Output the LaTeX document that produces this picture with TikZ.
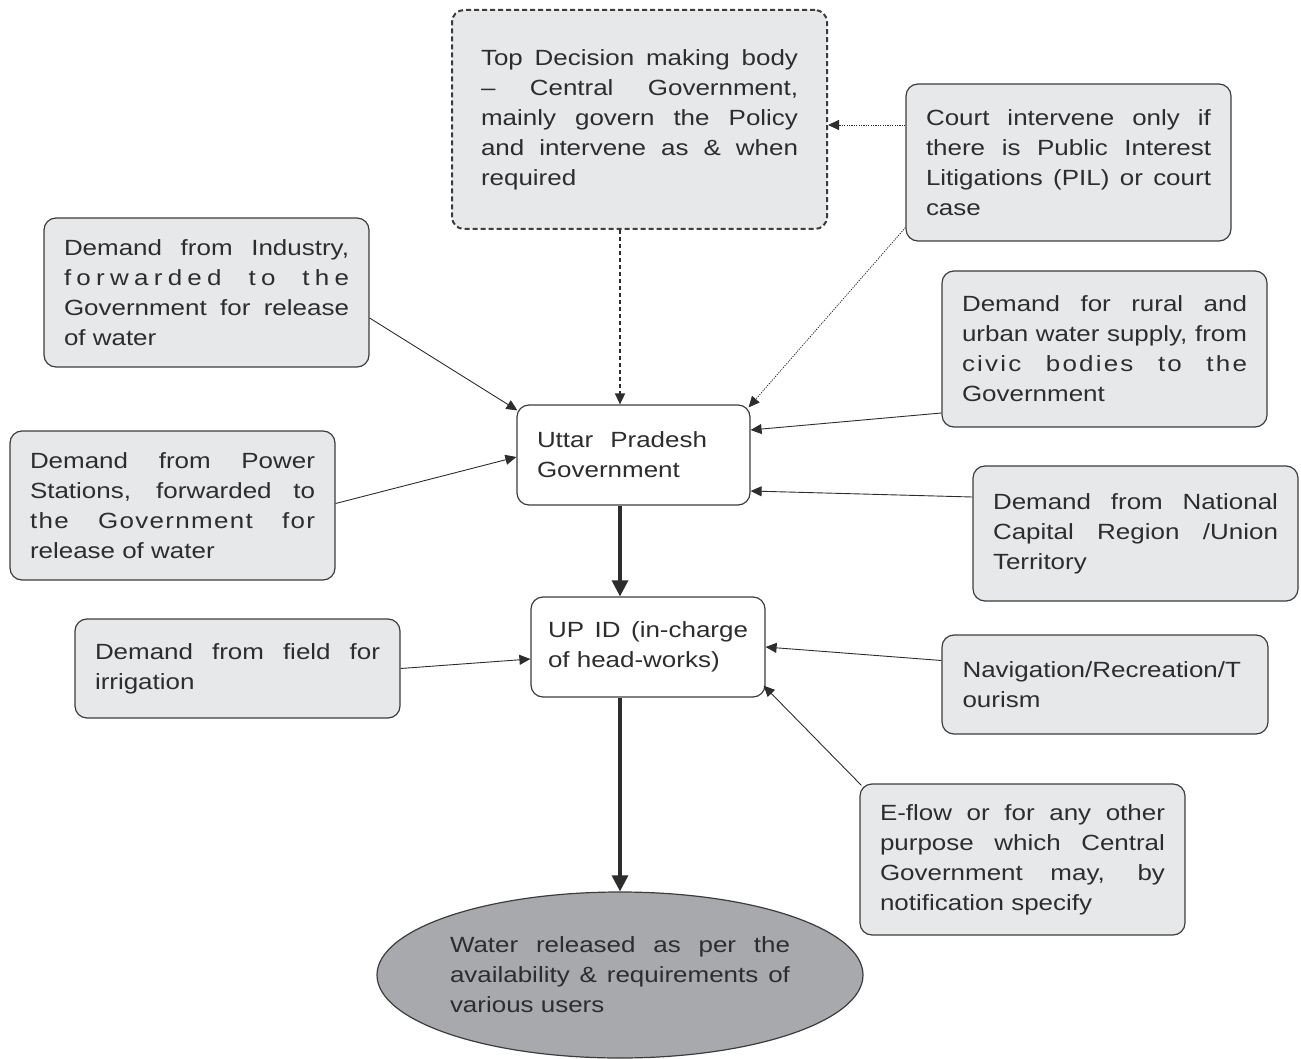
\documentclass[tikz,border=0pt]{standalone}
\usepackage{fontspec}
\setmainfont{Liberation Sans}[FakeStretch=1.18]
\usetikzlibrary{arrows.meta,shapes.geometric}
\definecolor{txt}{RGB}{45,45,45}
\definecolor{edge}{RGB}{60,60,60}
\definecolor{boxfill}{RGB}{231,232,233}
\definecolor{ellfill}{RGB}{167,169,172}
\begin{document}
\begin{tikzpicture}[x=1pt,y=-1pt,
  every node/.style={font=\fontsize{22}{30}\selectfont, text=txt},
  gbox/.style={draw=edge, line width=1.2pt, fill=boxfill, rounded corners=12pt,
    text width=285pt, inner xsep=20pt, inner ysep=0pt, align=justify, minimum width=325pt},
  wbox/.style={gbox, fill=white},
  dbox/.style={gbox, line width=2pt, dash pattern=on 5pt off 3pt, text width=317pt, inner xsep=29pt, minimum width=375pt},
  conn/.style={draw=txt, line width=0.9pt, -{Triangle[length=11pt,width=10pt]}},
  dotconn/.style={conn, line width=0.8pt, dash pattern=on 1.2pt off 1.2pt},
  dashconn/.style={conn, line width=1.6pt, dash pattern=on 4pt off 3pt},
  thickconn/.style={draw=txt, line width=3.2pt, -{Triangle[length=16pt,width=16pt]}}
]
\useasboundingbox (0,0) rectangle (1301,1059);

\node[dbox, minimum height=219pt] (top) at (639.5,119.5)
  {Top Decision making body\linebreak
   – Central Government,\linebreak
   mainly govern the Policy\linebreak
   and intervene as \& when\linebreak
   required};

\node[gbox, minimum height=157pt] (court) at (1068.5,162.5)
  {Court intervene only if\linebreak
   there is Public Interest\linebreak
   Litigations (PIL) or court\linebreak
   case};

\node[gbox, minimum height=149pt] (industry) at (206.5,292.5)
  {Demand from Industry,\linebreak
   {\addfontfeatures{LetterSpace=24}forwarded to the}\linebreak
   Government for release\linebreak
   of water};

\node[gbox, minimum height=156pt] (rural) at (1104.5,349)
  {Demand for rural and\linebreak
   urban water supply, from\linebreak
   {\addfontfeatures{LetterSpace=10}civic bodies to the}\linebreak
   Government};

\node[wbox, text width=193pt, minimum width=233pt, minimum height=100pt] (upgov) at (633.5,455)
  {\parbox[t]{170pt}{Uttar Pradesh\linebreak Government}};

\node[gbox, minimum height=149pt] (power) at (172.5,505.5)
  {Demand from Power\linebreak
   Stations, forwarded to\linebreak
   {\addfontfeatures{LetterSpace=6}the Government for}\linebreak
   release of water};

\node[gbox, minimum height=135pt] (ncr) at (1135.5,533.5)
  {Demand from National\linebreak
   Capital Region /Union\linebreak
   Territory};

\node[wbox, text width=200pt, inner xsep=17pt, minimum width=234pt, minimum height=100pt] (upid) at (648,647)
  {UP ID (in-charge\linebreak of head-works)};

\node[gbox, minimum height=99pt] (field) at (237.5,668.5)
  {Demand from field for\linebreak irrigation};

\node[gbox, minimum width=326pt, minimum height=99pt, align=left] (nav) at (1105,684.5)
  {Navigation/Recreation/T\\ourism};

\node[gbox, minimum height=151pt] (eflow) at (1022.5,859.5)
  {E-flow or for any other\linebreak
   purpose which Central\linebreak
   Government may, by\linebreak
   notification specify};

\node[ellipse, draw=edge, line width=1.2pt, fill=ellfill, text width=340pt, align=justify,
  minimum width=486pt, minimum height=166pt, inner sep=0pt] (water) at (620,975)
  {Water released as per the\linebreak
   availability \& requirements of\linebreak
   various users};

\coordinate (cx) at (620,0);

% connectors
\draw[dashconn] (top.south -| cx) -- (upgov.north -| cx);
\draw[dotconn] ([yshift=37.5pt]court.west) -- ([yshift=-5.5pt]top.east);
\draw[dotconn] ([yshift=14pt]court.south west) -- ([xshift=-2pt,yshift=-3pt]upgov.north east);
\draw[conn] ([yshift=-25.5pt]industry.east) -- ([xshift=1pt,yshift=-6pt]upgov.north west);
\draw[conn] ([yshift=2pt]power.east) -- ([yshift=-2pt]upgov.west);
\draw[conn] ([yshift=-64pt]rural.west) -- ([yshift=25pt]upgov.east);
\draw[conn] ([yshift=36.5pt]ncr.west) -- ([yshift=-36pt]upgov.east);
\draw[thickconn] (upgov.south -| cx) -- (upid.north -| cx);
\draw[conn] (field.east) -- ([yshift=-12pt]upid.west);
\draw[conn] ([yshift=24pt]nav.west) -- (upid.east);
\draw[conn] ([xshift=2pt,yshift=-2pt]eflow.north west) -- ([xshift=-2pt,yshift=12pt]upid.south east);
\draw[thickconn] (upid.south -| cx) -- (water.north -| cx);
\end{tikzpicture}
\end{document}
